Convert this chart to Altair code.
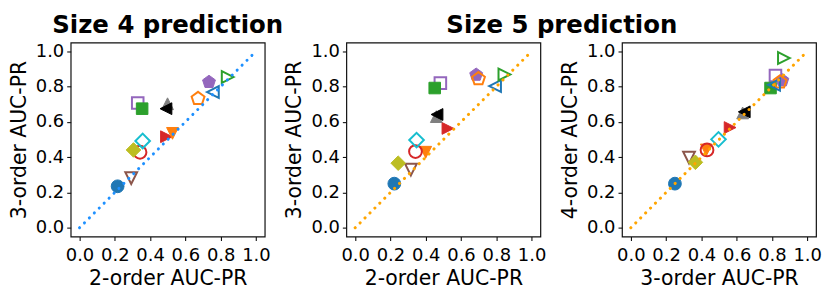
import altair as alt
import pandas as pd

# ---- data ----
methods = ["m01", "m02", "m03", "m04", "m05", "m06", "m07", "m08",
           "m09", "m10", "m11", "m12", "m13", "m14", "m15"]
colors = ["#1f77b4", "#d62728", "#ff7f0e", "#d62728", "#8c564b", "#bcbd22",
          "#17becf", "#9467bd", "#2ca02c", "#7f7f7f", "#000000", "#9467bd",
          "#ff7f0e", "#1f77b4", "#2ca02c"]
markers = ["circle", "tri-right", "tri-down", "circle", "tri-down", "diamond",
           "diamond", "square", "square", "tri-up", "tri-left", "pentagon",
           "pentagon", "tri-left", "tri-right"]
filled = [True, True, True, False, False, True, False, False, True, True,
          True, True, False, False, False]

p1_x = [0.216, 0.493, 0.527, 0.343, 0.293, 0.306, 0.358, 0.330, 0.355,
        0.499, 0.490, 0.734, 0.672, 0.756, 0.840]
p1_y = [0.235, 0.516, 0.535, 0.428, 0.281, 0.441, 0.492, 0.707, 0.675,
        0.703, 0.675, 0.826, 0.732, 0.769, 0.854]
p2_x = [0.222, 0.526, 0.400, 0.342, 0.316, 0.244, 0.348, 0.483, 0.451,
        0.460, 0.464, 0.686, 0.699, 0.793, 0.846]
p2_y = [0.250, 0.563, 0.428, 0.432, 0.330, 0.366, 0.497, 0.820, 0.792,
        0.630, 0.642, 0.867, 0.844, 0.803, 0.869]
p3_x = [0.250, 0.563, 0.428, 0.432, 0.330, 0.366, 0.497, 0.820, 0.792,
        0.634, 0.643, 0.859, 0.846, 0.812, 0.868]
p3_y = [0.250, 0.568, 0.441, 0.441, 0.398, 0.371, 0.501, 0.863, 0.792,
        0.651, 0.657, 0.835, 0.826, 0.810, 0.962]

ticks = [0.0, 0.2, 0.4, 0.6, 0.8, 1.0]
diag = [0.0, 1.0]

# ---- marker styling ----
shape_path = {
    "circle": "circle",
    "square": "square",
    "diamond": "diamond",
    "tri-up": "M0,-1L1,1L-1,1Z",
    "tri-down": "M0,1L1,-1L-1,-1Z",
    "tri-left": "M-1,0L1,-1L1,1Z",
    "tri-right": "M1,0L-1,-1L-1,1Z",
    "pentagon": "M0,-1L0.951,-0.309L0.588,0.809L-0.588,0.809L-0.951,-0.309Z",
}
shape_size = {
    "circle": 165, "square": 135, "diamond": 215, "tri-up": 140,
    "tri-down": 140, "tri-left": 140, "tri-right": 140, "pentagon": 185,
}

FONT = "DejaVu Sans"
W = H = 195


def panel(xs, ys, xtitle, ytitle, line_color):
    df = pd.DataFrame({
        "method": methods,
        "x": xs,
        "y": ys,
        "order": list(range(len(methods))),
        "shape": [shape_path[m] for m in markers],
        "size": [shape_size[m] for m in markers],
        "stroke": colors,
        "fill": [c if f else "transparent" for c, f in zip(colors, filled)],
        "sw": [1.0 if f else 2.0 for f in filled],
    })
    sc = alt.Scale(domain=[-0.05, 1.05], nice=False, zero=False)
    xenc = alt.X("x:Q", scale=sc, title=xtitle,
                 axis=alt.Axis(values=ticks, format=".1f"))
    yenc = alt.Y("y:Q", scale=sc, title=ytitle,
                 axis=alt.Axis(values=ticks, format=".1f"))
    pts = alt.Chart(df).mark_point(opacity=1, fillOpacity=1).encode(
        x=xenc,
        y=yenc,
        shape=alt.Shape("shape:N", scale=None),
        size=alt.Size("size:Q", scale=None),
        stroke=alt.Stroke("stroke:N", scale=None),
        fill=alt.Fill("fill:N", scale=None),
        strokeWidth=alt.StrokeWidth("sw:Q", scale=None),
        order=alt.Order("order:Q"),
    )
    ldf = pd.DataFrame({"x": diag, "y": diag})
    line = alt.Chart(ldf).mark_line(
        color=line_color, strokeWidth=3, strokeDash=[0.1, 6.9], strokeCap="round"
    ).encode(x=xenc, y=yenc)
    return alt.layer(pts, line).properties(width=W, height=H)


c1 = panel(p1_x, p1_y, "2-order AUC-PR", "3-order AUC-PR", "#1e90ff").properties(
    title="Size 4 prediction"
)
c2 = panel(p2_x, p2_y, "2-order AUC-PR", "3-order AUC-PR", "#ffa500").properties(
    title=alt.TitleParams("Size 5 prediction", dx=119)
)
c3 = panel(p3_x, p3_y, "3-order AUC-PR", "4-order AUC-PR", "#ffa500")

chart = alt.hconcat(c1, c2, c3, spacing=82, bounds="flush").properties(
    padding={"top": 4, "left": 0, "right": 0, "bottom": 0}
).configure_view(
    stroke="#111111", strokeWidth=1.2
).configure_axis(
    domain=False, grid=False, ticks=True, tickColor="#111111", tickSize=4,
    tickWidth=1.1,
    labelFont=FONT, labelFontSize=18, labelColor="black", labelFlush=False,
    labelOverlap=False,
    titleFont=FONT, titleFontSize=20.5, titleFontWeight="normal", titleColor="black",
).configure_axisX(labelPadding=6, titlePadding=4).configure_axisY(
    labelPadding=3, titlePadding=6
).configure_title(
    font=FONT, fontSize=24.5, fontWeight="bold", color="black", anchor="middle",
    offset=3.5
)

chart.save("out.html", embed_options={"renderer": "svg", "actions": False})
